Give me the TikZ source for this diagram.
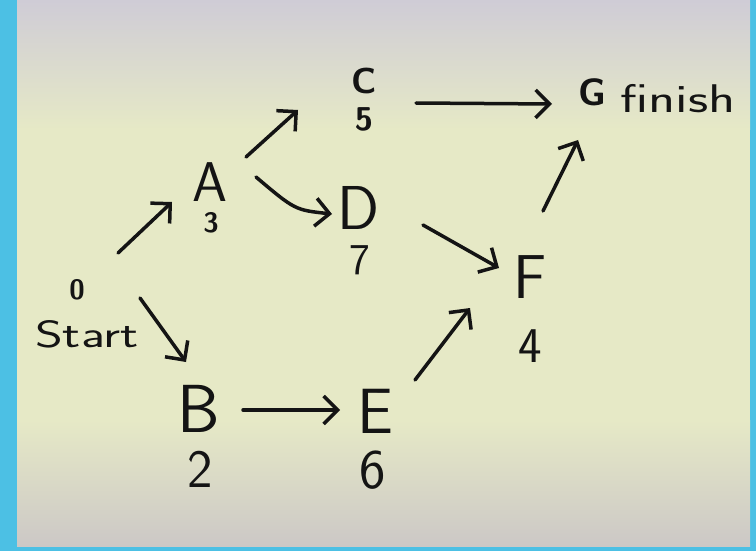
\documentclass[tikz,border=0pt]{standalone}
\usetikzlibrary{arrows.meta,calc}
\definecolor{frameblue}{HTML}{4CC0E4}
\definecolor{paperTop}{HTML}{CFCCD6}
\definecolor{paperMid}{HTML}{E6E9C6}
\definecolor{paperBot}{HTML}{CCC8C6}
\definecolor{ink}{HTML}{141414}
\begin{document}
\begin{tikzpicture}[x=1pt,y=-1pt,
  lbl/.style={text=ink,font=\sffamily\fontsize{#1}{#1}\selectfont,inner sep=0pt},
  blbl/.style={text=ink,font=\sffamily\bfseries\fontsize{#1}{#1}\selectfont,inner sep=0pt},
  arr/.style={draw=ink,line width=3.5pt,line cap=round,line join=round,
    -{Straight Barb[length=14pt,width=28pt]}}]
\useasboundingbox (0,0) rectangle (756,551);
\fill[frameblue] (0,0) rectangle (756,551);
% paper
\fill[paperMid] (17,0) rectangle (750,546);
\shade[top color=paperTop, bottom color=paperMid] (17,0) rectangle (750,130);
\shade[top color=paperMid, bottom color=paperBot] (17,420) rectangle (750,546);
% nodes
\node[blbl=28] (zero) at (77,290) {0};
\node[lbl=38,xscale=1.4] (start) at (87,334) {Start};
\node[lbl=56] (A) at (210,182) {A};
\node[blbl=28] (a3) at (211,223) {3};
\node[blbl=36] (C) at (364,81) {C};
\node[blbl=33] (c5) at (364,119) {5};
\node[lbl=62] (D) at (359,208) {D};
\node[lbl=44] (d7) at (360,260) {7};
\node[lbl=62] (F) at (530,277) {F};
\node[lbl=50] (f4) at (530,346) {4};
\node[lbl=68] (B) at (199,409) {B};
\node[lbl=54] (b2) at (200,469) {2};
\node[lbl=64] (E) at (375,411) {E};
\node[lbl=56] (e6) at (373,470) {6};
\node[blbl=38] (G) at (592,92) {G};
\node[lbl=40,xscale=1.4] (finish) at (678,99) {finish};
% connectors
\draw[arr] ($(zero)+(41,-37)$) -- ($(A)+(-38,20)$);
\draw[arr] ($(start)+(53,-36)$) -- ($(B)+(-13,-47)$);
\draw[arr] ($(A)+(36,-25)$) -- ($(C)+(-66,29)$);
\draw[arr] ($(A)+(46,-5)$) .. controls ($(A)+(85,28)$) .. ($(D)+(-27,6)$);
\draw[arr] ($(C)+(52,22)$) -- ($(G)+(-40,12)$);
\draw[arr] ($(D)+(64,17)$) -- ($(F)+(-31,-9)$);
\draw[arr] ($(B)+(44,1)$) -- ($(E)+(-35,-1)$);
\draw[arr] ($(E)+(40,-31)$) -- ($(F)+(-60,31)$);
\draw[arr] ($(F)+(13,-66)$) -- ($(G)+(-14,48)$);
\end{tikzpicture}
\end{document}
